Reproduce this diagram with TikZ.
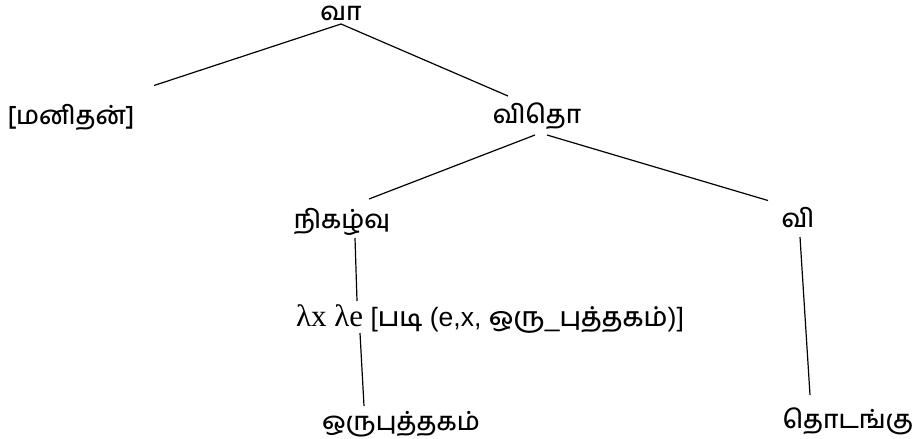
\documentclass[tikz,border=0pt]{standalone}
\usepackage{fontspec}
\setmainfont{Liberation Sans}
\newfontfamily\tamil[Script=Tamil]{Hind Madurai Medium}
\newfontfamily\serifl{Liberation Serif}
\usetikzlibrary{calc}
\begin{document}
\begin{tikzpicture}[x=1pt,y=-1pt,
  lbl/.style={inner sep=0pt, font=\tamil\fontsize{25.5}{30}\selectfont},
  edge/.style={line width=1.2pt}]
\useasboundingbox (0,0) rectangle (913,439);
\node[lbl] (va)  at (341,13)  {வா};
\node[lbl] (man) at (71,117)  {[மனிதன்]};
\node[lbl] (vt)  at (537,116) {விதொ};
\node[lbl] (nik) at (342,222) {நிகழ்வு};
\node[lbl] (vi)  at (798,218) {வி};
\node[lbl, font=\fontsize{26.5}{30}\selectfont] (lam) at (490,319)
  {{\serifl\fontsize{31}{34}\selectfont λx λe} [{\tamil படி} (e,x, {\tamil ஒரு}\_{\tamil புத்தகம்})]};
\node[lbl] (oru) at (401,424) {ஒருபுத்தகம்};
\node[lbl] (tod) at (848,421) {தொடங்கு};
\draw[edge] ($(va)+(0,11)$) -- ($(man)+(83,-31.5)$);
\draw[edge] ($(va)+(0,11)$) -- ($(vt)+(-29,-20)$);
\draw[edge] ($(vt)+(-2,19)$) -- ($(nik)+(27,-23)$);
\draw[edge] ($(vt)+(10,19)$) -- ($(vi)+(-30,-17.5)$);
\draw[edge] ($(nik)+(13,16)$) -- ($(lam)+(-133,-18)$);
\draw[edge] ($(lam)+(-130,14)$) -- ($(oru)+(-37,-18)$);
\draw[edge] ($(vi)+(2,19)$) -- ($(tod)+(-38,-26)$);
\end{tikzpicture}
\end{document}
